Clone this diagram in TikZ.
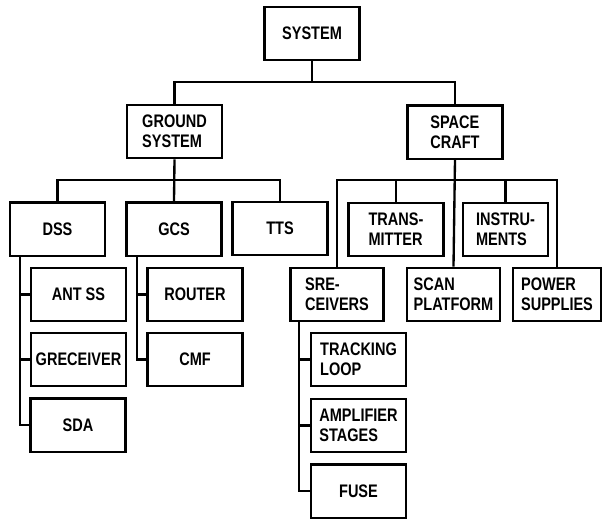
\documentclass[tikz,border=0pt]{standalone}
\usepackage{fontspec}
\newfontfamily\chartfont{Liberation Sans}[FakeStretch=0.8]
\tikzset{
  box/.style={draw, line width=2pt, inner sep=0pt, minimum width=2.85cm,
    minimum height=1.6cm, align=left,
    font=\chartfont\bfseries\fontsize{15.5}{17}\selectfont},
  wire/.style={line width=2pt}
}
\begin{document}
\begin{tikzpicture}[x=0.03cm, y=-0.03cm]
  \useasboundingbox (0,0) rectangle (603,518);
  % top level
  \node[box] (sys) at (312,33.5) {SYSTEM};
  \node[box] (gnd) at (174.5,131.5) {GROUND\\SYSTEM};
  \node[box] (sc) at (455,132) {SPACE\\CRAFT};
  \coordinate (bus) at (312,82);
  \draw[wire] (sys) -- (bus);
  \draw[wire] (gnd.north) |- (bus) -| (sc.north);
  % ground system
  \node[box] (dss) at (57.5,229) {DSS};
  \node[box] (gcs) at (174,229) {GCS};
  \node[box] (tts) at (280,228.5) {TTS};
  \coordinate (gbus) at (176,180);
  \draw[wire] (gnd.south) -- (gcs.north);
  \draw[wire] (dss.north) |- (gbus) -| (tts.north);
  % DSS branch
  \node[box] (ant) at (78.5,294.5) {ANT SS};
  \node[box] (grec) at (78.5,359.5) {GRECEIVER};
  \node[box] (sda) at (78,425) {SDA};
  \coordinate (dssdrop) at (20,256);
  \draw[wire] (dssdrop) |- (sda.west);
  \draw[wire] (ant.west) -- (ant.west -| dssdrop);
  \draw[wire] (grec.west) -- (grec.west -| dssdrop);
  % GCS branch
  \node[box] (rout) at (195,294.5) {ROUTER};
  \node[box] (cmf) at (195,359.5) {CMF};
  \coordinate (gcsdrop) at (137,256);
  \draw[wire] (gcsdrop) |- (cmf.west);
  \draw[wire] (rout.west) -- (rout.west -| gcsdrop);
  % space craft
  \node[box] (trans) at (396,229.5) {TRANS-\\MITTER};
  \node[box, minimum width=2.55cm] (instr) at (505.5,229.5) {INSTRU-\\MENTS};
  \node[box, minimum width=2.8cm] (srec) at (337,294.5) {SRE-\\CEIVERS};
  \node[box, minimum width=2.8cm] (scan) at (453.5,294.5) {SCAN\\PLATFORM};
  \node[box, minimum width=2.64cm] (power) at (557,294.5) {POWER\\SUPPLIES};
  \coordinate (sbus) at (454,180);
  \draw[wire] (sc.south) -- (scan.north);
  \draw[wire] (srec.north) |- (sbus) -| (power.north);
  \draw[wire] (trans.north) -- (trans.north |- sbus);
  \draw[wire] (instr.north) -- (instr.north |- sbus);
  % receivers branch
  \node[box] (track) at (358.5,359.5) {TRACKING\\LOOP};
  \node[box] (amp) at (358.5,425.5) {AMPLIFIER\\STAGES};
  \node[box] (fuse) at (358.5,491) {FUSE};
  \coordinate (srecdrop) at (299,321);
  \draw[wire] (srecdrop) |- (fuse.west);
  \draw[wire] (track.west) -- (track.west -| srecdrop);
  \draw[wire] (amp.west) -- (amp.west -| srecdrop);
\end{tikzpicture}
\end{document}
